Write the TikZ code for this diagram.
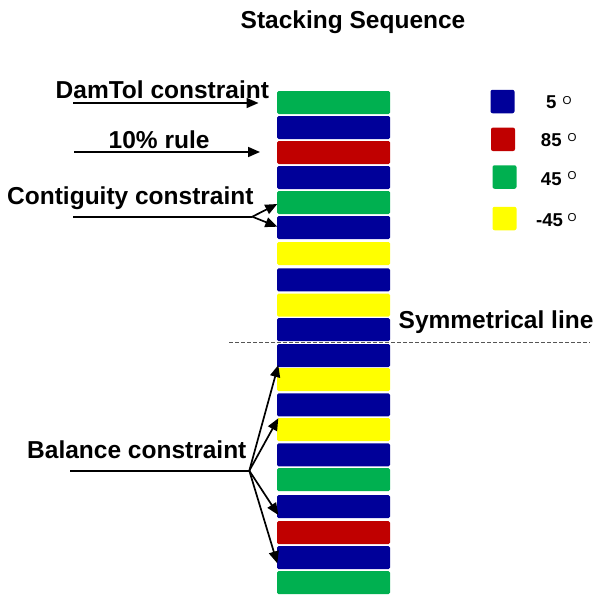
\documentclass[tikz,border=0pt]{standalone}
\usepackage{fontspec}
\setmainfont{Liberation Sans}
\usetikzlibrary{arrows.meta,calc}
\definecolor{lblue}{RGB}{0,0,153}
\definecolor{lred}{RGB}{192,0,0}
\definecolor{lgreen}{RGB}{0,176,80}
\definecolor{lyellow}{RGB}{255,255,0}
\definecolor{dashgray}{RGB}{85,85,85}
\tikzset{
  layer/.style={draw=none,rounded corners=1.5pt,minimum width=113pt,minimum height=23pt,inner sep=0pt,outer sep=0pt},
  legbox/.style={draw=none,rounded corners=2pt,minimum width=24pt,minimum height=23.5pt,inner sep=0pt},
  bigtxt/.style={inner sep=0pt,anchor=base west,font=\fontsize{24.5}{26}\selectfont\bfseries},
  legtxt/.style={inner sep=0pt,anchor=base west,font=\fontsize{18.6}{20}\selectfont\bfseries},
  degtxt/.style={inner sep=0pt,anchor=base west,font=\fontsize{11.5}{12}\selectfont},
  arr/.style={line width=1.7pt,-{Triangle[length=12pt,width=10pt]}},
  plain/.style={line width=1.7pt},
}
\begin{document}
\begin{tikzpicture}[x=1pt,y=-1pt]
\useasboundingbox (0,0) rectangle (596,594);
% layers
\foreach \n/\yy/\c in {1/102.5/lgreen,2/127.5/lblue,3/152.5/lred,4/177.5/lblue,5/202.5/lgreen,
  6/227.5/lblue,7/253.5/lyellow,8/279.8/lblue,9/305.2/lyellow,10/329.6/lblue,
  11/355.5/lblue,12/379.5/lyellow,13/404.8/lblue,14/429.5/lyellow,15/454.8/lblue,
  16/479.5/lgreen,17/506.5/lblue,18/532.5/lred,19/557.5/lblue,20/582.5/lgreen}
  \node[layer,fill=\c] (L\n) at (333.5,\yy) {};
% title
\node[bigtxt] (title) at (240.5,28.3) {Stacking Sequence};
% symmetrical line
\coordinate (symA) at (229,342.8);
\coordinate (symB) at (590,342.8);
\draw[dashgray,line width=1pt,dash pattern=on 4pt off 2pt] (symA) -- (symB);
\node[bigtxt] (symtxt) at (398.5,328) {Symmetrical line};
% DamTol
\node[bigtxt] (damtxt) at (55.5,98.3) {DamTol constraint};
\coordinate (damS) at (73,103);
\coordinate (damE) at ($(L1.west)+(-18.5,0.5)$);
\draw[arr] (damS) -- (damE);
% 10% rule
\node[bigtxt] (ruletxt) at (108.5,148.3) {10\% rule};
\coordinate (ruleS) at (74,152);
\coordinate (ruleE) at ($(L3.west)+(-17,-0.5)$);
\draw[arr] (ruleS) -- (ruleE);
% contiguity
\node[bigtxt] (contxt) at (7,204) {Contiguity constraint};
\coordinate (conS) at (73,216.7);
\coordinate (conB) at (252.3,216.7);
\draw[plain] (conS) -- (conB);
\draw[arr] (conB) -- ($(L5.west)+(0.3,1.5)$);
\draw[arr] (conB) -- ($(L6.west)+(0.3,-0.8)$);
% balance
\node[bigtxt] (baltxt) at (27,458.3) {Balance constraint};
\coordinate (balS) at (70,470.7);
\coordinate (balB) at (249.3,470.7);
\draw[plain] (balS) -- (balB);
\draw[arr] (balB) -- ($(L11.south west)+(1.3,-2)$);
\draw[arr] (balB) -- ($(L14.north west)+(1.3,0.3)$);
\draw[arr] (balB) -- ($(L17.south west)+(1.3,-3)$);
\draw[arr] (balB) -- ($(L19.south west)+(0.3,-5.7)$);
% legend
\node[legbox,fill=lblue] (K1) at (502.5,101.5) {};
\node[legbox,fill=lred] (K2) at (503,139.3) {};
\node[legbox,fill=lgreen] (K3) at (504.5,177) {};
\node[legbox,fill=lyellow] (K4) at (504.5,218.5) {};
\node[legtxt] (T1) at (546,108) {5};
\node[degtxt] (D1) at (562.5,104) {O};
\node[legtxt] (T2) at (540.7,146.7) {85};
\node[degtxt] (D2) at (567.5,141) {O};
\node[legtxt] (T3) at (540.7,185) {45};
\node[degtxt] (D3) at (567.5,179) {O};
\node[legtxt] (T4) at (536,226.7) {-45};
\node[degtxt] (D4) at (567.5,221.7) {O};
\end{tikzpicture}
\end{document}
